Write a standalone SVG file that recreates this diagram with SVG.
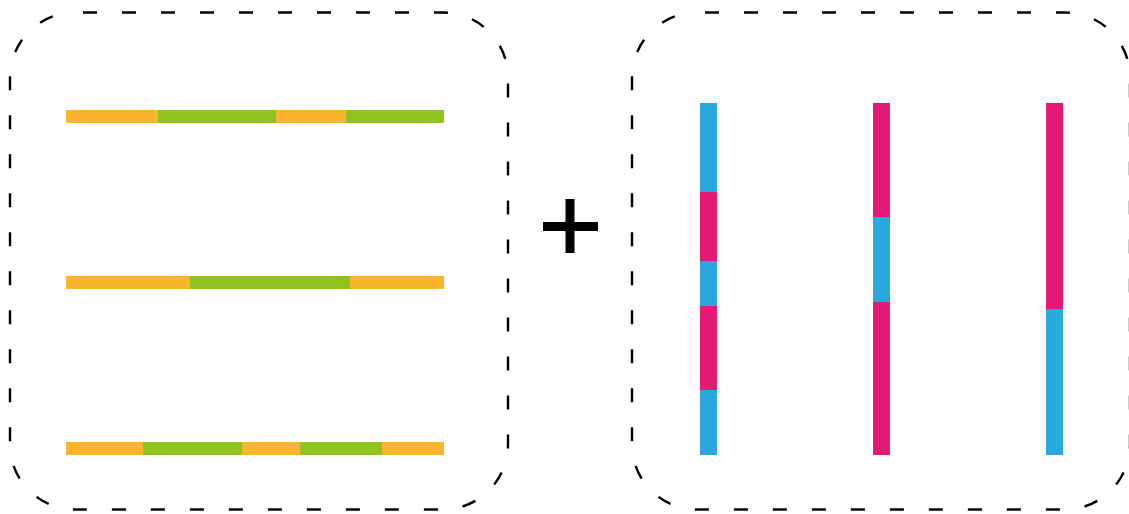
<svg xmlns="http://www.w3.org/2000/svg" width="1129" height="514" viewBox="0 0 1129 514">
  <style>
    .frame { fill: none; stroke: #000; stroke-width: 2.4; stroke-dasharray: 14 25; stroke-dashoffset: -8; }
    .o { fill: #F9B52C; }
    .g { fill: #8DC21F; }
    .b { fill: #29A8E0; }
    .p { fill: #E61A72; }
  </style>
  <rect width="1129" height="514" fill="#fff"/>

  <!-- left panel: horizontal strips -->
  <g id="left-panel">
    <rect class="frame" x="10" y="12.5" width="498" height="497" rx="65" ry="65"/>
    <g id="strip-h1">
      <rect class="o" x="66" y="110" width="92" height="13"/>
      <rect class="g" x="158" y="110" width="118" height="13"/>
      <rect class="o" x="276" y="110" width="70" height="13"/>
      <rect class="g" x="346" y="110" width="98" height="13"/>
    </g>
    <g id="strip-h2">
      <rect class="o" x="66" y="276" width="124" height="13"/>
      <rect class="g" x="190" y="276" width="160" height="13"/>
      <rect class="o" x="350" y="276" width="94" height="13"/>
    </g>
    <g id="strip-h3">
      <rect class="o" x="66" y="442" width="77" height="13"/>
      <rect class="g" x="143" y="442" width="99" height="13"/>
      <rect class="o" x="242" y="442" width="58" height="13"/>
      <rect class="g" x="300" y="442" width="82" height="13"/>
      <rect class="o" x="382" y="442" width="62" height="13"/>
    </g>
  </g>

  <!-- plus sign -->
  <g id="plus">
    <rect x="565.5" y="199" width="9" height="54" fill="#000"/>
    <rect x="543" y="222" width="55" height="9" fill="#000"/>
  </g>

  <!-- right panel: vertical strips -->
  <g id="right-panel">
    <rect class="frame" x="632" y="12.5" width="498" height="497" rx="65" ry="65"/>
    <g id="strip-v1">
      <rect class="b" x="700" y="103" width="17" height="89"/>
      <rect class="p" x="700" y="192" width="17" height="69"/>
      <rect class="b" x="700" y="261" width="17" height="45"/>
      <rect class="p" x="700" y="306" width="17" height="84"/>
      <rect class="b" x="700" y="390" width="17" height="65"/>
    </g>
    <g id="strip-v2">
      <rect class="p" x="873" y="103" width="17" height="114"/>
      <rect class="b" x="873" y="217" width="17" height="85"/>
      <rect class="p" x="873" y="302" width="17" height="153"/>
    </g>
    <g id="strip-v3">
      <rect class="p" x="1046" y="103" width="17" height="206"/>
      <rect class="b" x="1046" y="309" width="17" height="146"/>
    </g>
  </g>
</svg>
